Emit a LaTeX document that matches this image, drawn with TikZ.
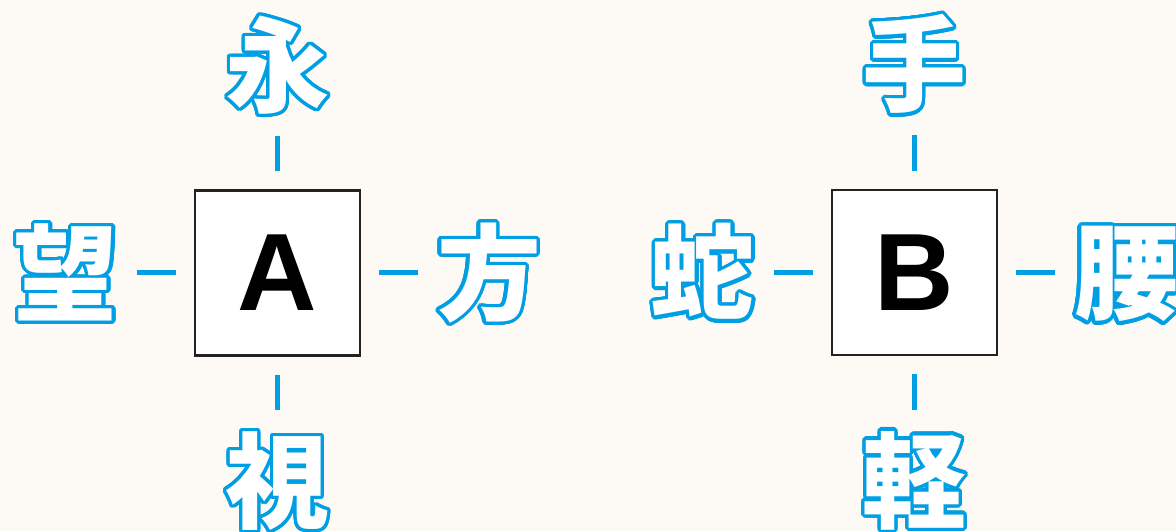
\documentclass[tikz,border=0pt]{standalone}
\usepackage{fontspec}
\usepackage[copies]{contour}
\usetikzlibrary{positioning}
\setmainfont{Liberation Sans}
\newfontfamily\jpfont{Noto Sans CJK JP}
\definecolor{kblue}{RGB}{0,158,226}
\definecolor{paper}{RGB}{253,249,245}
\definecolor{frame}{RGB}{34,34,34}
\contourlength{3.3pt}
\contournumber{32}
\tikzstyle{box}=[rectangle,draw=frame,line width=2.2pt,fill=white,minimum size=165pt,inner sep=0pt,font=\bfseries\fontsize{110}{110}\selectfont]
\tikzstyle{kanji}=[inner sep=0pt,outer sep=0pt,minimum width=104pt,text=white,font=\jpfont\bfseries\fontsize{104}{104}\selectfont,text height=91.5pt,text depth=12.5pt]
\tikzstyle{link}=[draw=kblue,line width=5pt,shorten <=18pt,shorten >=19pt]

\begin{document}
\begin{tikzpicture}[x=1pt,y=1pt,node distance=72.5pt and 76pt]
\useasboundingbox (0,0) rectangle (1176,531);
\fill[paper] (0,0) rectangle (1176,531);

\node (A) at (277.5,258) [box] {A};
\node (B) at (914.5,258.5) [box] {B};

\node (ei)   [kanji,above=of A] {\contour{kblue}{永}};
\node (bou)  [kanji,left=of A]  {\contour{kblue}{望}};
\node (hou)  [kanji,right=of A] {\contour{kblue}{方}};
\node (shi)  [kanji,below=of A] {\contour{kblue}{視}};

\node (te)    [kanji,above=of B] {\contour{kblue}{手}};
\node (hebi)  [kanji,left=of B]  {\contour{kblue}{蛇}};
\node (koshi) [kanji,right=of B] {\contour{kblue}{腰}};
\node (karu)  [kanji,below=of B] {\contour{kblue}{軽}};

\draw[link] (A) -- (ei);
\draw[link] (A) -- (bou);
\draw[link] (A) -- (hou);
\draw[link] (A) -- (shi);

\draw[link] (B) -- (te);
\draw[link] (B) -- (hebi);
\draw[link] (B) -- (koshi);
\draw[link] (B) -- (karu);
\end{tikzpicture}
\end{document}
